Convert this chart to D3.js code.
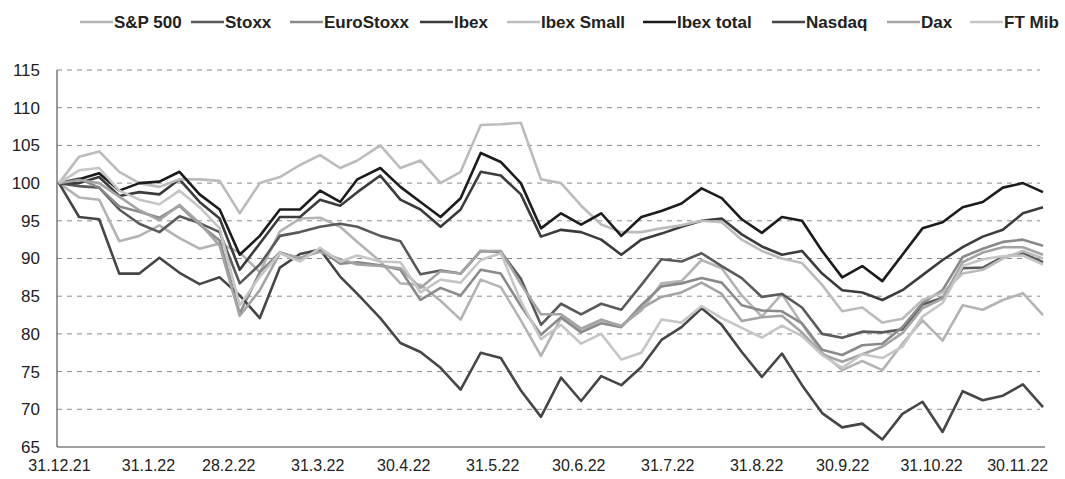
<!DOCTYPE html>
<html><head><meta charset="utf-8">
<script src="https://cdn.jsdelivr.net/npm/d3@7"></script>
<style>body{margin:0;background:#fff}svg{display:block}</style>
</head><body>
<svg id="c" width="1065" height="479"></svg>
<script>
const dates = ["2021-12-31","2022-01-07","2022-01-14","2022-01-21","2022-01-28","2022-02-04","2022-02-11","2022-02-18","2022-02-25","2022-03-04",
"2022-03-11","2022-03-18","2022-03-25","2022-04-01","2022-04-08","2022-04-14","2022-04-22","2022-04-29","2022-05-06","2022-05-13",
"2022-05-20","2022-05-27","2022-06-03","2022-06-10","2022-06-17","2022-06-24","2022-07-01","2022-07-08","2022-07-15","2022-07-22",
"2022-07-29","2022-08-05","2022-08-12","2022-08-19","2022-08-26","2022-09-02","2022-09-09","2022-09-16","2022-09-23","2022-09-30",
"2022-10-07","2022-10-14","2022-10-21","2022-10-28","2022-11-04","2022-11-11","2022-11-18","2022-11-25","2022-12-02","2022-12-09"];

const seriesNames = ["S&P 500","Stoxx","EuroStoxx","Ibex","Ibex Small","Ibex total","Nasdaq","Dax","FT Mib"];

const sp500 = [100,98.1,97.8,92.3,93.0,94.4,92.7,91.3,92.0,90.8,
88.2,93.6,95.3,95.4,94.2,92.2,89.6,86.7,86.5,84.4,
81.9,87.2,86.2,81.8,77.1,82.1,80.3,81.8,81.1,83.1,
86.7,87.0,89.8,88.7,85.1,82.3,85.3,81.3,77.5,75.2,
76.4,75.2,78.7,81.8,79.1,83.8,83.2,84.5,85.4,82.5];
const stoxx = [100,99.6,99.4,96.5,94.6,93.5,95.6,94.7,93.5,86.7,
89.2,93.0,93.5,94.2,94.6,94.2,93.0,92.3,87.9,88.4,
88.0,91.0,90.9,87.3,81.2,84.0,82.6,84.0,83.2,86.5,
89.9,89.6,90.7,89.0,87.4,84.9,85.3,83.5,80.0,79.5,
80.3,80.2,80.6,83.9,84.8,88.7,88.8,90.2,90.7,89.5];
const euroStoxx = [100,100.6,99.4,96.9,96.2,95.4,97.0,94.5,92.4,82.7,
88.2,90.8,90.0,91.2,89.3,89.5,89.1,88.5,84.5,86.1,
85.1,88.5,88.0,83.7,79.9,82.2,80.2,81.4,80.9,83.8,
86.3,86.7,87.4,86.8,83.8,83.1,83.0,81.4,77.9,77.2,
78.5,78.7,80.9,84.1,85.8,90.2,91.3,92.2,92.5,91.7];
const ibex = [100,100,100.8,98.3,98.8,98.5,100.5,97.5,95.3,88.5,
92,95.5,95.5,97.8,97,98.8,101,97.8,96.5,94.2,
96.5,101.5,101,98.5,92.9,93.8,93.5,92.5,90.5,92.5,
93.3,94.2,95,95.3,93.2,91.6,90.5,91,88,85.8,
85.5,84.5,85.8,87.8,89.8,91.5,92.9,93.8,96,96.8];
const ibexSmall = [100,103.5,104.2,101.5,100,99.5,100.5,100.5,100.3,96,
100,100.8,102.4,103.7,102,103,105,102,103,100,
101.5,107.7,107.8,108,100.5,100,97,94.5,93.5,93.5,
94,94.4,95,94.8,92.5,91,90,89.4,86.5,83,
83.5,81.5,82,84.5,85.5,88,88.5,90,91,90];
const ibexTotal = [100,100.5,101.3,99,100,100.2,101.5,98.5,96.5,90.5,
93,96.5,96.5,99,97.5,100.5,102,99.5,97.5,95.5,
98,104,102.8,100,94,96,94.5,96,93,95.5,
96.3,97.3,99.3,98,95.2,93.4,95.5,95,91,87.5,
89,87,90.5,94,94.8,96.8,97.5,99.4,100,98.8];
const nasdaq = [100,95.5,95.2,88.0,88.0,90.1,88.1,86.6,87.5,85.1,
82.1,88.8,90.6,91.2,87.6,85.3,82.1,78.8,77.6,75.5,
72.6,77.5,76.8,72.5,69.0,74.2,71.1,74.4,73.2,75.6,
79.2,80.9,83.4,81.2,77.6,74.3,77.4,73.2,69.5,67.6,
68.1,66.0,69.4,71.0,67.0,72.4,71.2,71.8,73.3,70.3];
const dax = [100,100.4,100.0,98.2,96.4,95.1,97.1,94.7,91.7,82.4,
85.8,90.7,90.1,90.9,89.9,89.2,89.0,88.7,86.1,88.3,
88.0,91.0,91.0,86.6,82.6,82.6,80.7,81.9,81.0,83.4,
84.9,85.5,86.8,85.3,81.7,82.2,82.4,80.2,77.3,76.3,
77.3,78.3,80.1,83.4,84.7,89.5,90.8,91.5,91.5,90.5];
const ftMib = [100,101.7,102.0,99.0,97.8,97.2,99.0,96.8,94.0,83.8,
87.6,90.7,89.6,91.4,89.6,90.4,89.6,89.5,85.5,87.2,
86.8,89.8,90.7,84.3,79.3,81.2,78.7,80.0,76.6,77.5,
81.9,81.5,83.7,82.1,80.8,79.5,81.1,79.7,77.2,75.5,
77.3,76.8,78.3,82.3,84.1,89.0,89.9,90.3,90.4,89.2];

const yTicks = [65,70,75,80,85,90,95,100,105,110,115];
const xTickDates = ["2021-12-31","2022-01-31","2022-02-28","2022-03-31","2022-04-30","2022-05-31","2022-06-30","2022-07-31","2022-08-31","2022-09-30","2022-10-31","2022-11-30"];
const xTickLabels = ["31.12.21","31.1.22","28.2.22","31.3.22","30.4.22","31.5.22","30.6.22","31.7.22","31.8.22","30.9.22","31.10.22","30.11.22"];

// ---- styles / layout ----
const values = [sp500, stoxx, euroStoxx, ibex, ibexSmall, ibexTotal, nasdaq, dax, ftMib];
const colors = ["#b4b4b4","#5a5a5a","#8a8a8a","#3c3c3c","#bcbcbc","#1c1c1c","#464646","#a4a4a4","#c6c6c6"];
const legendX = [80,191,290,420,507,643,772,887,970];

const parse = d3.timeParse("%Y-%m-%d");
const svg = d3.select("#c");
const L = 57, R = 1045, T = 70, B = 447;
const x = d3.scaleTime().domain([parse(dates[0]), parse(dates[dates.length-1])]).range([59, 1043]);
const y = d3.scaleLinear().domain([65,115]).range([B, T]);

// gridlines
svg.append("g").selectAll("line").data(yTicks.filter(v => v > 65)).join("line")
  .attr("x1", L).attr("x2", 1040).attr("y1", d => y(d)).attr("y2", d => y(d))
  .attr("stroke", "#8a8a8a").attr("stroke-width", 1).attr("stroke-dasharray", "5,5");

// axes
const yAxis = svg.append("g").attr("transform", `translate(${L},0)`)
  .call(d3.axisLeft(y).tickValues(yTicks).tickSize(0).tickPadding(17).tickFormat(d3.format("d")));
yAxis.select(".domain").remove();
yAxis.selectAll("text").attr("font-family","Liberation Sans, Arial, sans-serif").attr("font-size",17).attr("fill","#222");

const xAxis = svg.append("g").attr("transform", `translate(0,${B})`)
  .call(d3.axisBottom(x).tickValues(xTickDates.map(parse)).tickSize(0).tickPadding(13)
    .tickFormat((d,i) => xTickLabels[i]));
xAxis.select(".domain").remove();
xAxis.selectAll("text").attr("font-family","Liberation Sans, Arial, sans-serif").attr("font-size",16).attr("fill","#222");

svg.append("line").attr("x1",L).attr("x2",L).attr("y1",T).attr("y2",B).attr("stroke","#555").attr("stroke-width",1.2);
svg.append("line").attr("x1",L).attr("x2",R).attr("y1",B).attr("y2",B).attr("stroke","#444").attr("stroke-width",1.2);

// lines
const line = d3.line().x((d,i) => x(parse(dates[i]))).y(d => y(d));
svg.append("g").selectAll("path").data(values).join("path")
  .attr("d", d => line(d)).attr("fill","none")
  .attr("stroke", (d,i) => colors[i]).attr("stroke-width", 2.6).attr("stroke-linejoin","round");

// legend
const lg = svg.append("g").selectAll("g").data(seriesNames).join("g")
  .attr("transform", (d,i) => `translate(${legendX[i]},0)`);
lg.append("line").attr("x1",0).attr("x2",33).attr("y1",22).attr("y2",22)
  .attr("stroke",(d,i)=>colors[i]).attr("stroke-width",2.6);
lg.append("text").attr("x",34).attr("y",28).text(d=>d)
  .attr("font-family","Liberation Sans, Arial, sans-serif").attr("font-weight","bold").attr("font-size",17).attr("fill","#222");
</script>
</body></html>
